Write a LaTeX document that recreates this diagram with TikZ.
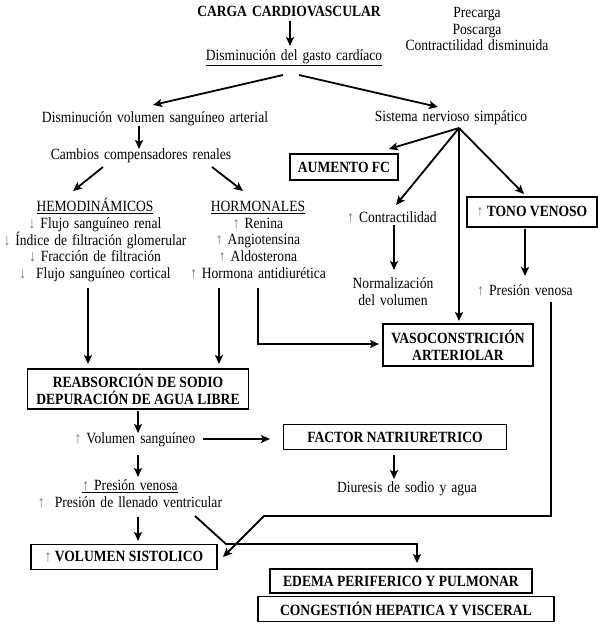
\documentclass[tikz,border=0pt]{standalone}
\usepackage{fontspec}
\setmainfont{Liberation Serif}[FakeStretch=0.87]
\usetikzlibrary{arrows.meta}
\newcommand\ua{{\mdseries\color{black!55}↑}}
\newcommand\da{{\mdseries\color{black!55}↓}}
\newcommand\widesp{\spaceskip=5pt plus 1pt minus 1pt\relax}
\begin{document}
\begin{tikzpicture}[x=1pt,y=-1pt,
  every node/.style={font=\fontsize{15.6}{16.8}\selectfont\widesp, inner sep=0pt, align=center},
  arr/.style={line width=1.8pt, -{Stealth[length=9pt,width=8pt,inset=2pt]}},
  ln/.style={line width=1.8pt},
  boxn/.style={draw, line width=1.5pt, font=\fontsize{15.6}{16.8}\selectfont\bfseries},
]
\useasboundingbox[fill=white] (0,0) rectangle (600,625);

% nodes
\node (carga) at (289,11) {\bfseries CARGA CARDIOVASCULAR};
\node (pre) at (477,29) {Precarga\\Poscarga\\Contractilidad disminuida};
\node (gasto) at (294,58) {\underline{Disminución del gasto cardíaco}};
\node (dvsa) at (155,119) {Disminución volumen sanguíneo arterial};
\node (sns) at (451,118) {Sistema nervioso simpático};
\node (ccr) at (141,156) {Cambios compensadores renales};
\node[boxn, minimum width=108, minimum height=26] (fc) at (344,167) {AUMENTO FC};
\node (hemo) at (95,240) {\underline{HEMODINÁMICOS}\\\da{} Flujo sanguíneo renal\\\da{} Índice de filtración glomerular\\\da{} Fracción de filtración\\\da{}\ \ Flujo sanguíneo cortical};
\node (horm) at (258,240) {\underline{HORMONALES}\\\ua{} Renina\\\ua{} Angiotensina\\\ua{} Aldosterona\\\ua{} Hormona antidiurética};
\node (contr) at (392,217) {\ua{} Contractilidad};
\node[boxn, minimum width=130, minimum height=30] (tono) at (532,212) {\ua{} TONO VENOSO};
\node (norm) at (393,292) {Normalización\\del volumen};
\node (pv1) at (525,290) {\ua{} Presión venosa};
\node[boxn, minimum width=150, minimum height=42] (vaso) at (458,345) {VASOCONSTRICIÓN\\ARTERIOLAR};
\node[boxn, minimum width=221, minimum height=40] (reab) at (138,389) {REABSORCIÓN DE SODIO\\DEPURACIÓN DE AGUA LIBRE};
\node (vol) at (135,440) {\ua{} Volumen sanguíneo};
\node[boxn, minimum width=223, minimum height=25] (fn) at (395,437) {FACTOR NATRIURETRICO};
\node (diu) at (407,489) {Diuresis de sodio y agua};
\node (pv2) at (130,494) {\underline{\ua{} Presión venosa}\\\ua{}\ \ Presión de llenado ventricular};
\node[boxn, minimum width=186, minimum height=25] (vs) at (124,557) {\ua{} VOLUMEN SISTOLICO};
\node[boxn, minimum width=262, minimum height=24] (edema) at (401,581) {EDEMA PERIFERICO Y PULMONAR};
\node[boxn, minimum width=296, minimum height=25] (cong) at (406,609) {CONGESTIÓN HEPATICA Y VISCERAL};

% connector points
\coordinate (a1s) at (290,21);  \coordinate (a1e) at (290,46);
\coordinate (g1) at (283,75);   \coordinate (g1e) at (153,105);
\coordinate (g2) at (299,75);   \coordinate (g2e) at (438,107);
\coordinate (d1) at (139,126);  \coordinate (d1e) at (139,149);
\coordinate (c1) at (103,167);  \coordinate (c1e) at (73,191);
\coordinate (c2) at (212,167);  \coordinate (c2e) at (243,191);
\coordinate (fan) at (459,128);
\coordinate (fcE) at (389,149);
\coordinate (coE) at (396,205);
\coordinate (vaE) at (459,321);
\coordinate (toE) at (524,194);
\coordinate (n1) at (394,225);  \coordinate (n1e) at (394,270);
\coordinate (t1) at (525,229);  \coordinate (t1e) at (525,276);
\coordinate (h1) at (88,288);   \coordinate (h1e) at (88,364);
\coordinate (h2) at (219,288);  \coordinate (h2e) at (219,364);
\coordinate (h3) at (258,288);  \coordinate (h3b) at (258,344); \coordinate (h3e) at (379,344);
\coordinate (r1) at (138,411);  \coordinate (r1e) at (138,433);
\coordinate (v1) at (203,439);  \coordinate (v1e) at (270,439);
\coordinate (f1) at (394,455);  \coordinate (f1e) at (394,479);
\coordinate (v2) at (138,455);  \coordinate (v2e) at (138,477);
\coordinate (p1) at (138,517);  \coordinate (p1e) at (138,541);
\coordinate (p2) at (195,516);  \coordinate (p2b) at (226,544); \coordinate (p2c) at (417,544); \coordinate (p2e) at (417,563);
\coordinate (q1) at (551,302);  \coordinate (q1b) at (551,516); \coordinate (q1c) at (264,516); \coordinate (q1e) at (223,557);

% connectors
\draw[arr] (a1s) -- (a1e);
\draw[arr] (g1) -- (g1e);
\draw[arr] (g2) -- (g2e);
\draw[arr] (d1) -- (d1e);
\draw[arr] (c1) -- (c1e);
\draw[arr] (c2) -- (c2e);
\draw[arr] (fan) -- (fcE);
\draw[arr] (fan) -- (coE);
\draw[arr] (fan) -- (vaE);
\draw[arr] (fan) -- (toE);
\draw[arr] (n1) -- (n1e);
\draw[arr] (t1) -- (t1e);
\draw[arr] (h1) -- (h1e);
\draw[arr] (h2) -- (h2e);
\draw[arr] (h3) -- (h3b) -- (h3e);
\draw[arr] (r1) -- (r1e);
\draw[arr] (v1) -- (v1e);
\draw[arr] (f1) -- (f1e);
\draw[arr] (v2) -- (v2e);
\draw[arr] (p1) -- (p1e);
\draw[arr] (p2) -- (p2b) -- (p2c) -- (p2e);
\draw[arr] (q1) -- (q1b) -- (q1c) -- (q1e);
\end{tikzpicture}
\end{document}
